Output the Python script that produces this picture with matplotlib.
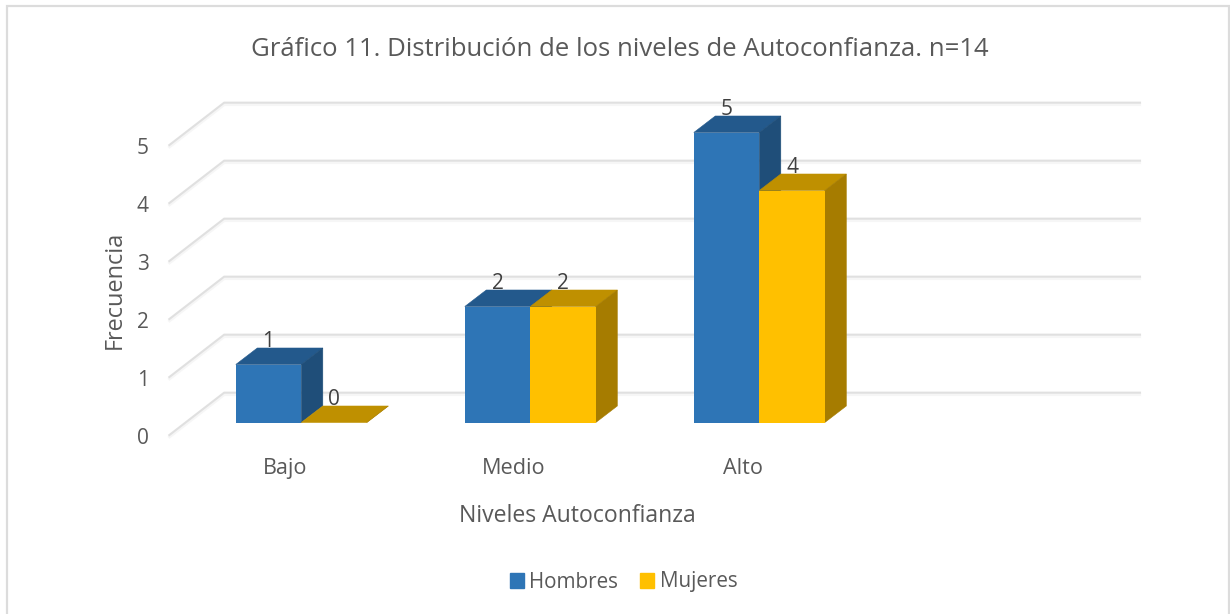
import matplotlib
matplotlib.use("Agg")
import numpy as np
import matplotlib.pyplot as plt
from matplotlib.patches import Patch, Polygon, Rectangle

categories = ["Bajo", "Medio", "Alto"]
hombres = [1, 2, 5]
mujeres = [0, 2, 4]
y_ticks = [0, 1, 2, 3, 4, 5]

title = "Gráfico 11. Distribución de los niveles de Autoconfianza. n=14"
x_title = "Niveles Autoconfianza"
y_title = "Frecuencia"

plt.rcParams["font.family"] = ["Open Sans", "DejaVu Sans"]

BLUE = ("#2E75B6", "#23598C", "#1F4E79")
GOLD = ("#FFC000", "#BF9000", "#A67C00")
TEXT = "#595959"
DARK = "#404040"
GRID = "#E0E0E0"

# one x unit is one category (229 px), one y unit is one frequency step (58 px)
bar_w = 65.5 / 229
depth_x = 21.5 / 229
depth_y = 16.5 / 58

fig = plt.figure(figsize=(12.3, 6.14), dpi=100)
ax = fig.add_axes([0, 0, 1, 1])
ax.set_xlim(-301.3 / 229, (1230 - 301.3) / 229)
ax.set_ylim((422.5 - 614) / 58, 422.5 / 58)
ax.axis("off")

# chart border
fig.add_artist(Rectangle((6.5 / 1230, -0.02), 1222 / 1230, 1.02 - 6.5 / 614,
                         transform=fig.transFigure, fill=False,
                         edgecolor="#DCDCDC", linewidth=1.6))


def draw_grid():
    for v in y_ticks:
        xs = [-0.58, -0.337, 3.667]
        ys = [v - 0.228, v + 0.514, v + 0.514]
        ax.plot(xs, [y - 0.035 for y in ys], color="#F6F6F6", lw=2, zorder=1,
                solid_capstyle="butt")
        ax.plot(xs, ys, color=GRID, lw=1.5, zorder=1.1, solid_capstyle="butt")
        ax.text(-0.693, v - 0.28, str(v), ha="center", va="center",
                fontsize=15, color=TEXT)


def draw_series(x_pos, values, colors, z):
    ax.bar(x_pos, values, width=bar_w, align="edge", color=colors[0], zorder=z + 0.2)
    for x, v in zip(x_pos, values):
        top = [(x, v), (x + bar_w, v), (x + bar_w + depth_x, v + depth_y),
               (x + depth_x, v + depth_y)]
        side = [(x + bar_w, 0), (x + bar_w + depth_x, depth_y),
                (x + bar_w + depth_x, v + depth_y), (x + bar_w, v)]
        ax.add_patch(Polygon(top, closed=True, facecolor=colors[1], edgecolor=colors[1],
                             linewidth=0.4, zorder=z))
        ax.add_patch(Polygon(side, closed=True, facecolor=colors[2], edgecolor=colors[2],
                             linewidth=0.4, zorder=z))
        ax.text(x + bar_w / 2, v + 0.39, str(v), ha="center", va="center",
                fontsize=15, color=DARK, zorder=6)


draw_grid()

centers = np.arange(len(categories))
draw_series(centers - bar_w, hombres, BLUE, 3)
draw_series(centers, mujeres, GOLD, 4)

for c, name in zip(centers, categories):
    ax.text(c - 0.072, -0.8, name, ha="center", va="center", fontsize=15.6, color=TEXT)

fig.text(619.5 / 1230, 1 - 50 / 614, title, ha="center", va="center", fontsize=18.5, color=TEXT)
fig.text(577 / 1230, 1 - 516 / 614, x_title, ha="center", va="center", fontsize=16.6, color=TEXT)
fig.text(115 / 1230, 1 - 289.5 / 614, y_title, ha="center", va="center", rotation=90,
         fontsize=16.9, color=TEXT)

handles = [Patch(color=BLUE[0], label="Hombres"), Patch(color=GOLD[0], label="Mujeres")]
fig.legend(handles=handles, loc="center", bbox_to_anchor=(623.5 / 1230, 1 - 582 / 614),
           ncol=2, frameon=False, fontsize=14.9, labelcolor=TEXT, handlelength=0.7,
           handleheight=0.7, handletextpad=0.25, columnspacing=1.05)

fig.savefig("out.png", dpi=100)
